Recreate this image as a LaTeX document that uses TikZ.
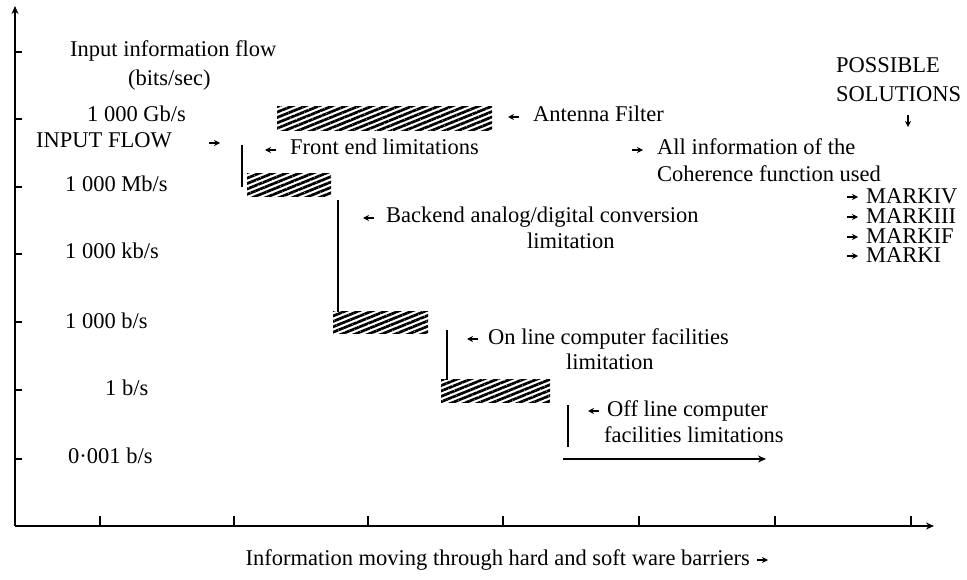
\documentclass[tikz,border=0pt]{standalone}
\usepackage{fontspec}
\setmainfont{Liberation Serif}
\usetikzlibrary{arrows.meta, patterns.meta, positioning}

\begin{document}
\begin{tikzpicture}[
    x=1pt, y=-1pt,
    font=\fontsize{22.5}{27}\selectfont,
    lbl/.style={anchor=west, inner sep=0pt, text height=15pt, text depth=5pt},
    caps/.style={lbl, text height=14pt, text depth=0pt},
    hatch/.style={pattern={Lines[angle=22, distance=5pt, line width=2.7pt]}},
    limit/.style={line width=2pt},
    pointer/.style={line width=1.3pt, -{Stealth[length=6pt, width=6pt]}},
    axis/.style={line width=1.5pt, -{Stealth[length=8pt, width=7pt]}}
]
    \useasboundingbox (0,0) rectangle (967,580);

    % Axes and ticks
    \coordinate (origin) at (15,526);
    \coordinate (ytop) at (15,6);
    \coordinate (xend) at (934,526);
    \draw[axis] (origin) -- (ytop);
    \draw[axis] (origin) -- (xend);
    \foreach \ty in {52,119,187,254,322,390,459}
        \draw[line width=1.5pt] (15,\ty) -- (22,\ty);
    \foreach \tx in {100,234,368,503,639,775,911}
        \draw[line width=1.5pt] (\tx,526) -- (\tx,516);

    % Rate labels
    \node[lbl] (title) at (70,52) {Input information flow};
    \node[lbl] (units) at (128,81) {(bits/sec)};
    \node[lbl] (gbs) at (87,117) {1 000 Gb/s};
    \node[lbl] (inflow) at (36,143) {INPUT FLOW};
    \node[lbl] (mbs) at (65,187) {1 000 Mb/s};
    \node[lbl] (kbs) at (65,254) {1 000 kb/s};
    \node[lbl] (bs) at (65,323) {1 000 b/s};
    \node[lbl] (onebs) at (105,390) {1 b/s};
    \node[lbl] (millibs) at (68,458) {0·001 b/s};
    \draw[pointer] ([xshift=37pt]inflow.east) -- ++(11,0);

    % Hatched levels
    \path[hatch] (277,107) rectangle (492,131);
    \path[hatch] (247,174) rectangle (331,197);
    \path[hatch] (333,311) rectangle (428,333);
    \path[hatch] (441,379) rectangle (550,402);

    % Barriers
    \draw[limit] (242,145) -- (242,187);
    \draw[limit] (338,200) -- (338,312);
    \draw[limit] (447,330) -- (447,380);
    \draw[limit] (568,405) -- (568,447);
    \coordinate (flowstart) at (563,459);
    \coordinate (flowend) at (766,459);
    \draw[line width=1.5pt, -{Stealth[length=8pt, width=7pt]}] (flowstart) -- (flowend);

    % Limitation labels
    \node[lbl] (antenna) at (533,117) {Antenna Filter};
    \node[lbl] (front) at (290,150) {Front end limitations};
    \node[lbl] (backend) at (386,218) {Backend analog/digital conversion};
    \node[lbl] (backlim) at (527,244) {limitation};
    \node[lbl] (online) at (488,339) {On line computer facilities};
    \node[lbl] (onlim) at (566,364) {limitation};
    \node[lbl] (offline) at (607,411) {Off line computer};
    \node[lbl] (offlim) at (604,437) {facilities limitations};
    \draw[pointer] ([xshift=-14pt]antenna.west) -- ++(-11,0);
    \draw[pointer] ([xshift=-14pt]front.west) -- ++(-11,0);
    \draw[pointer] ([xshift=-12pt]backend.west) -- ++(-11,0);
    \draw[pointer] ([xshift=-10pt]online.west) -- ++(-11,0);
    \draw[pointer] ([xshift=-8pt]offline.west) -- ++(-11,0);

    % Solutions
    \node[lbl] (allinfo) at (657,150) {All information of the};
    \node[lbl] (coherence) at (657,177) {Coherence function used};
    \node[lbl] (possible) at (836,68) {POSSIBLE};
    \node[lbl] (solutions) at (836,97) {SOLUTIONS};
    \node[caps] (markiv) at (866,197) {MARKIV};
    \node[caps] (markiii) at (866,217) {MARKIII};
    \node[caps] (markif) at (866,237) {MARKIF};
    \node[caps] (marki) at (866,256) {MARKI};
    \draw[pointer] ([xshift=-25pt]allinfo.west) -- ++(11,0);
    \foreach \m in {markiv,markiii,markif,marki}
        \draw[pointer] ([xshift=-19pt]\m.west) -- ++(11,0);
    \draw[pointer] (908,115) -- (908,127);

    % Horizontal axis caption
    \node[lbl, anchor=east] (caption) at (750,560) {Information moving through hard and soft ware barriers};
    \draw[pointer] ([xshift=7pt]caption.east) -- ++(11,0);
\end{tikzpicture}
\end{document}
